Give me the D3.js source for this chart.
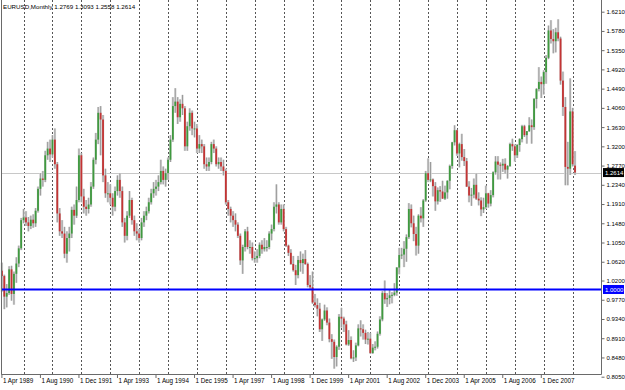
<!DOCTYPE html>
<html><head><meta charset="utf-8">
<script src="https://cdn.jsdelivr.net/npm/d3@7"></script>
<style>
html,body{margin:0;padding:0;background:#fff;}
svg{display:block;}
text{font-family:"Liberation Sans",Arial,sans-serif;}
</style></head>
<body>
<script>
// ---- DATA (EURUSD monthly, Apr 1989 .. Feb 2009) ----
const startMonth = "1989-04";
const opens = [
1.0420,1.0300,0.9840,0.9920,1.0450,0.9900,1.0350,1.0580,1.0920,
1.1550,1.1610,1.1500,1.1420,1.1560,1.1480,1.1760,1.2250,1.2480,1.2450,1.3000,1.3150,
1.3020,1.3350,1.2800,1.1700,1.1300,1.1250,1.0800,1.1150,1.1250,1.1780,1.1650,1.2000,
1.3000,1.2080,1.1850,1.1800,1.1900,1.2300,1.2900,1.3350,1.3950,1.3800,1.2550,1.2150,
1.2150,1.2050,1.1850,1.2200,1.2450,1.2200,1.1500,1.1200,1.1650,1.2000,1.1550,1.1300,
1.1250,1.1150,1.1500,1.1650,1.1750,1.1950,1.2150,1.2250,1.2300,1.2400,1.2650,1.2450,
1.2600,1.2900,1.3350,1.4100,1.4200,1.3850,1.4150,1.4050,1.3200,1.3650,1.3950,1.3600,
1.3600,1.3150,1.3250,1.3200,1.2800,1.2750,1.2850,1.3250,1.3150,1.2800,1.2850,1.2750,
1.2650,1.1950,1.1800,1.1650,1.1550,1.1450,1.1200,1.0650,1.0950,1.1300,1.0950,1.0950,
1.0700,1.0700,1.0750,1.1000,1.0900,1.0950,1.0950,1.1250,1.1350,1.1850,1.1900,1.1500,
1.1800,1.1350,1.0980,1.0820,1.0570,1.0430,1.0320,1.0660,1.0590,1.0680,1.0570,1.0100,
1.0050,0.9710,0.9650,0.9570,0.9110,0.9330,0.9530,0.9260,0.8890,0.8830,0.8490,0.8720,
0.9390,0.9350,0.9220,0.8770,0.8870,0.8460,0.8480,0.8750,0.9130,0.9110,0.9030,0.8880,
0.8900,0.8580,0.8700,0.8720,0.9010,0.9330,0.9920,0.9780,0.9810,0.9870,0.9880,0.9930,
1.0490,1.0770,1.0780,1.0910,1.1170,1.1800,1.1480,1.1240,1.0980,1.1650,1.1590,1.1990,
1.2600,1.2450,1.2460,1.2310,1.1970,1.2220,1.2190,1.2030,1.2170,1.2430,1.2760,1.3290,
1.3560,1.3040,1.3250,1.2960,1.2870,1.2300,1.2100,1.2120,1.2340,1.2030,1.1990,1.1790,
1.1840,1.2150,1.1920,1.2110,1.2620,1.2860,1.2790,1.2770,1.2810,1.2680,1.2760,1.3250,
1.3200,1.3000,1.3230,1.3360,1.3650,1.3450,1.3540,1.3670,1.3630,1.4260,1.4480,1.4640,
1.4590,1.4860,1.5180,1.5790,1.5600,1.5550,1.5750,1.5610,1.4670,1.4080,1.2740,1.2700,
1.3980,1.2769];
const highs = [
1.0600,1.0330,1.0120,1.0520,1.0530,1.0400,1.0720,1.0980,1.1600,
1.1800,1.1750,1.1620,1.1650,1.1680,1.1820,1.2300,1.2600,1.2650,1.3100,1.3300,1.3350,
1.3450,1.3600,1.2850,1.1820,1.1550,1.1400,1.1300,1.1400,1.1850,1.1900,1.2300,1.3150,
1.3050,1.2250,1.2000,1.2050,1.2400,1.2950,1.3500,1.4080,1.4100,1.3900,1.2700,1.2400,
1.2350,1.2150,1.2300,1.2550,1.2600,1.2300,1.1600,1.1750,1.2200,1.2050,1.1650,1.1480,
1.1350,1.1600,1.1750,1.1850,1.2050,1.2250,1.2400,1.2450,1.2550,1.2900,1.2750,1.2700,
1.2950,1.3450,1.4300,1.4500,1.4300,1.4250,1.4350,1.4100,1.3750,1.4050,1.4000,1.3750,
1.3700,1.3450,1.3350,1.3250,1.2950,1.2950,1.3300,1.3350,1.3200,1.2950,1.2950,1.2900,
1.2700,1.2000,1.1850,1.1750,1.1700,1.1500,1.1250,1.1000,1.1350,1.1400,1.1100,1.1050,
1.0850,1.0900,1.1050,1.1100,1.1150,1.1100,1.1300,1.1450,1.1950,1.2350,1.1950,1.1900,
1.1900,1.1400,1.1000,1.0900,1.0750,1.0550,1.0750,1.0850,1.0800,1.0880,1.0600,1.0320,
1.0400,0.9900,0.9800,0.9700,0.9350,0.9660,0.9600,0.9350,0.9000,0.8880,0.8750,0.9450,
0.9590,0.9390,0.9300,0.9090,0.8950,0.8640,0.8810,0.9220,0.9310,0.9220,0.9100,0.9050,
0.9030,0.8780,0.8840,0.9060,0.9400,0.9960,1.0200,0.9920,0.9990,0.9940,1.0140,1.0500,
1.0930,1.0930,1.1080,1.1230,1.1930,1.1900,1.1650,1.1400,1.1680,1.1840,1.2020,1.2650,
1.2930,1.2850,1.2480,1.2400,1.2280,1.2310,1.2430,1.2320,1.2440,1.2790,1.3300,1.3670,
1.3570,1.3280,1.3480,1.3140,1.2940,1.2420,1.2270,1.2480,1.2590,1.2170,1.2060,1.2050,
1.2320,1.2160,1.2220,1.2640,1.2980,1.2980,1.2840,1.2920,1.2930,1.2780,1.3280,1.3370,
1.3240,1.3250,1.3380,1.3680,1.3680,1.3540,1.3850,1.3800,1.4280,1.4500,1.4970,1.4760,
1.4900,1.5240,1.5900,1.6020,1.5820,1.5850,1.6040,1.5650,1.4870,1.4300,1.3300,1.4720,
1.4060,1.3093];
const lows = [
0.9950,0.9560,0.9600,0.9880,0.9750,0.9660,1.0150,1.0500,1.0880,
1.1480,1.1420,1.1300,1.1350,1.1380,1.1400,1.1720,1.2100,1.2300,1.2400,1.2900,1.2850,
1.2950,1.2700,1.1500,1.1200,1.1150,1.0700,1.0600,1.0850,1.1150,1.1450,1.1600,1.1950,
1.1950,1.1700,1.1650,1.1700,1.1850,1.2250,1.2800,1.3250,1.3000,1.2400,1.2050,1.1950,
1.1900,1.1650,1.1750,1.2100,1.2050,1.1400,1.1050,1.1100,1.1600,1.1450,1.1200,1.1100,
1.1050,1.1100,1.1400,1.1550,1.1700,1.1900,1.2050,1.2100,1.2200,1.2350,1.2350,1.2300,
1.2450,1.2850,1.3300,1.3950,1.3700,1.3750,1.3900,1.3100,1.3100,1.3550,1.3450,1.3400,
1.3050,1.3050,1.3050,1.2700,1.2650,1.2650,1.2800,1.3050,1.2750,1.2700,1.2650,1.2550,
1.1900,1.1650,1.1500,1.1400,1.1300,1.1150,1.0550,1.0350,1.0850,1.0900,1.0800,1.0650,
1.0600,1.0600,1.0700,1.0800,1.0850,1.0850,1.0900,1.1100,1.1300,1.1700,1.1450,1.1450,
1.1300,1.0950,1.0750,1.0550,1.0400,1.0100,1.0250,1.0400,1.0350,1.0550,1.0050,0.9990,
0.9680,0.9600,0.9400,0.9050,0.8850,0.9300,0.9200,0.8820,0.8450,0.8230,0.8280,0.8650,
0.9150,0.9050,0.8750,0.8740,0.8440,0.8380,0.8400,0.8730,0.8950,0.8880,0.8780,0.8770,
0.8560,0.8560,0.8640,0.8680,0.8970,0.9290,0.9680,0.9610,0.9670,0.9690,0.9850,0.9860,
1.0340,1.0680,1.0500,1.0620,1.1130,1.1390,1.1080,1.0760,1.0800,1.1500,1.1400,1.1960,
1.2400,1.2400,1.2080,1.1760,1.1900,1.1960,1.2030,1.2000,1.2030,1.2240,1.2700,1.3220,
1.2990,1.2730,1.2880,1.2760,1.2290,1.1950,1.1870,1.2040,1.2000,1.1880,1.1640,1.1710,
1.1800,1.1830,1.1860,1.2060,1.2570,1.2460,1.2460,1.2630,1.2590,1.2480,1.2740,1.3100,
1.2860,1.2940,1.3080,1.3290,1.3410,1.3260,1.3520,1.3260,1.3570,1.4050,1.4430,1.4280,
1.4360,1.4600,1.5150,1.5500,1.5280,1.5300,1.5550,1.4580,1.3880,1.2330,1.2330,1.2560,
1.2750,1.2558];
const closes = [
1.0300,0.9840,0.9920,1.0450,0.9900,1.0350,1.0580,1.0920,1.1550,
1.1610,1.1500,1.1420,1.1560,1.1480,1.1760,1.2250,1.2480,1.2450,1.3000,1.3150,1.3020,
1.3350,1.2800,1.1700,1.1300,1.1250,1.0800,1.1150,1.1250,1.1780,1.1650,1.2000,1.3000,
1.2080,1.1850,1.1800,1.1900,1.2300,1.2900,1.3350,1.3950,1.3800,1.2550,1.2150,1.2150,
1.2050,1.1850,1.2200,1.2450,1.2200,1.1500,1.1200,1.1650,1.2000,1.1550,1.1300,1.1250,
1.1150,1.1500,1.1650,1.1750,1.1950,1.2150,1.2250,1.2300,1.2400,1.2650,1.2450,1.2600,
1.2900,1.3350,1.4100,1.4200,1.3850,1.4150,1.4050,1.3200,1.3650,1.3950,1.3600,1.3600,
1.3150,1.3250,1.3200,1.2800,1.2750,1.2850,1.3250,1.3150,1.2800,1.2850,1.2750,1.2650,
1.1950,1.1800,1.1650,1.1550,1.1450,1.1200,1.0650,1.0950,1.1300,1.0950,1.0950,1.0700,
1.0700,1.0750,1.1000,1.0900,1.0950,1.0950,1.1250,1.1350,1.1850,1.1900,1.1500,1.1800,
1.1350,1.0980,1.0820,1.0570,1.0430,1.0320,1.0660,1.0590,1.0680,1.0570,1.0100,1.0050,
0.9710,0.9650,0.9570,0.9110,0.9330,0.9530,0.9260,0.8890,0.8830,0.8490,0.8720,0.9390,
0.9350,0.9220,0.8770,0.8870,0.8460,0.8480,0.8750,0.9130,0.9110,0.9030,0.8880,0.8900,
0.8580,0.8700,0.8720,0.9010,0.9330,0.9920,0.9780,0.9810,0.9870,0.9880,0.9930,1.0490,
1.0770,1.0780,1.0910,1.1170,1.1800,1.1480,1.1240,1.0980,1.1650,1.1590,1.1990,1.2600,
1.2450,1.2460,1.2310,1.1970,1.2220,1.2190,1.2030,1.2170,1.2430,1.2760,1.3290,1.3560,
1.3040,1.3250,1.2960,1.2870,1.2300,1.2100,1.2120,1.2340,1.2030,1.1990,1.1790,1.1840,
1.2150,1.1920,1.2110,1.2620,1.2860,1.2790,1.2770,1.2810,1.2680,1.2760,1.3250,1.3200,
1.3000,1.3230,1.3360,1.3650,1.3450,1.3540,1.3670,1.3630,1.4260,1.4480,1.4640,1.4590,
1.4860,1.5180,1.5790,1.5600,1.5550,1.5750,1.5610,1.4670,1.4080,1.2740,1.2700,1.3980,
1.2800,1.2614];
const yTickValues = [1.6210,1.5780,1.5350,1.4920,1.4490,1.4060,1.3630,1.3200,1.2770,1.2340,
  1.1910,1.1480,1.1050,1.0620,1.0200,0.9770,0.9340,0.8910,0.8480,0.8050];
const xTickLabels = ["1 Apr 1989","1 Aug 1990","1 Dec 1991","1 Apr 1993","1 Aug 1994","1 Dec 1995",
  "1 Apr 1997","1 Aug 1998","1 Dec 1999","1 Apr 2001","1 Aug 2002","1 Dec 2003","1 Apr 2005",
  "1 Aug 2006","1 Dec 2007"];
const symbolTitle = "EURUSD,Monthly";
const lastQuote = [1.2769, 1.3093, 1.2558, 1.2614];
const levelLine = 1.0000;

// ---- CHART ----
const W = 625, H = 390;
const plotL = 1, plotR = 601, plotB = 374;
const n = closes.length;
const start = d3.timeParse("%Y-%m")(startMonth);
const months = d3.range(n).map(i => d3.timeMonth.offset(start, i));

const svg = d3.select("body").append("svg").attr("width", W).attr("height", H);

const step = 2.408;
const x = d3.scaleBand().domain(months.map(d => +d))
  .range([1.9 - step / 2, 1.9 - step / 2 + n * step]).paddingInner(0).paddingOuter(0);
const cx = d => x(+d) + x.bandwidth() / 2;
const y = d3.scaleLinear().domain([0.8050, 1.6210]).range([376.7, 11.7]);

// yearly dotted grid (January)
const jans = months.filter(d => d.getMonth() === 0);
svg.append("g").selectAll("line").data(jans).join("line")
  .attr("x1", d => Math.round(cx(d)) + 0.5).attr("x2", d => Math.round(cx(d)) + 0.5)
  .attr("y1", 0).attr("y2", plotB)
  .attr("stroke", "#555").attr("stroke-width", 1).attr("stroke-dasharray", "2,2");

// current price line
svg.append("line").attr("x1", plotL).attr("x2", plotR)
  .attr("y1", Math.round(y(lastQuote[3])) + 0.5).attr("y2", Math.round(y(lastQuote[3])) + 0.5)
  .attr("stroke", "#c8c8c8").attr("stroke-width", 1);

// candles
const bars = d3.range(n).map(i => ({d: months[i], o: opens[i], h: highs[i], l: lows[i], c: closes[i]}));
const cg = svg.append("g");
cg.selectAll("line.wickbg").data(bars).join("line").attr("class", "wickbg")
  .attr("x1", b => cx(b.d)).attr("x2", b => cx(b.d))
  .attr("y1", b => y(b.h)).attr("y2", b => y(b.l))
  .attr("stroke", "#d6d6d6").attr("stroke-width", 2.4);
cg.selectAll("line.wick").data(bars).join("line").attr("class", "wick")
  .attr("x1", b => cx(b.d)).attr("x2", b => cx(b.d))
  .attr("y1", b => y(b.h)).attr("y2", b => y(b.l))
  .attr("stroke", "#9a9a9a").attr("stroke-width", 1);
cg.selectAll("rect.body").data(bars).join("rect").attr("class", "body")
  .attr("x", b => cx(b.d) - 0.9).attr("width", 1.8)
  .attr("y", b => Math.min(y(b.o), y(b.c)))
  .attr("height", b => Math.max(1, Math.abs(y(b.o) - y(b.c))))
  .attr("fill", b => b.c >= b.o ? "#3f9a3f" : "#c43434");

// 1.0000 level line
svg.append("line").attr("x1", plotL).attr("x2", plotR)
  .attr("y1", y(levelLine)).attr("y2", y(levelLine))
  .attr("stroke", "#0000ff").attr("stroke-width", 2);

// frame
svg.append("path").attr("d", `M${plotL + 0.5},0V${plotB + 0.5}H${plotR + 0.5}V0`)
  .attr("fill", "none").attr("stroke", "#6a6a6a").attr("stroke-width", 1);

// y axis
const yAxis = d3.axisRight(y).tickValues(yTickValues).tickSize(3).tickPadding(2)
  .tickFormat(d3.format(".4f"));
const gy = svg.append("g").attr("transform", `translate(${plotR + 0.5},0)`).call(yAxis);
gy.select(".domain").remove();
gy.selectAll(".tick line").attr("stroke", "#6a6a6a");
gy.selectAll(".tick text").attr("font-size", 6).attr("fill", "#000")
  .attr("font-family", "Liberation Sans, Arial, sans-serif");

// x axis
const xTickIdx = d3.range(0, n, 16).slice(0, xTickLabels.length);
const xAxis = d3.axisBottom(x).tickValues(xTickIdx.map(i => +months[i]))
  .tickSize(4).tickPadding(1).tickFormat((d, i) => xTickLabels[i]);
const gx = svg.append("g").attr("transform", `translate(0,${plotB})`).call(xAxis);
gx.select(".domain").remove();
gx.selectAll(".tick line").attr("stroke", "#6a6a6a");
gx.selectAll(".tick text").attr("font-size", 6.3).attr("fill", "#000")
  .attr("text-anchor", "start").attr("x", 1).attr("dy", "0.71em")
  .attr("font-family", "Liberation Sans, Arial, sans-serif");

// price label boxes
function priceBox(v, bg, txt) {
  const g = svg.append("g").attr("transform", `translate(${plotR + 2},${y(v)})`);
  g.append("rect").attr("x", 0).attr("y", -4.5).attr("width", 21).attr("height", 9).attr("fill", bg);
  g.append("text").attr("x", 2).attr("y", 0).attr("dy", "0.35em").attr("font-size", 6)
    .attr("fill", txt).text(d3.format(".4f")(v));
}
priceBox(lastQuote[3], "#000", "#fff");
priceBox(levelLine, "#0000ff", "#fff");

// title
svg.append("text").attr("x", 3).attr("y", 9).attr("font-size", 6.2).attr("fill", "#000")
  .text(symbolTitle + "  " + lastQuote.map(d3.format(".4f")).join(" "));
</script>
</body></html>
